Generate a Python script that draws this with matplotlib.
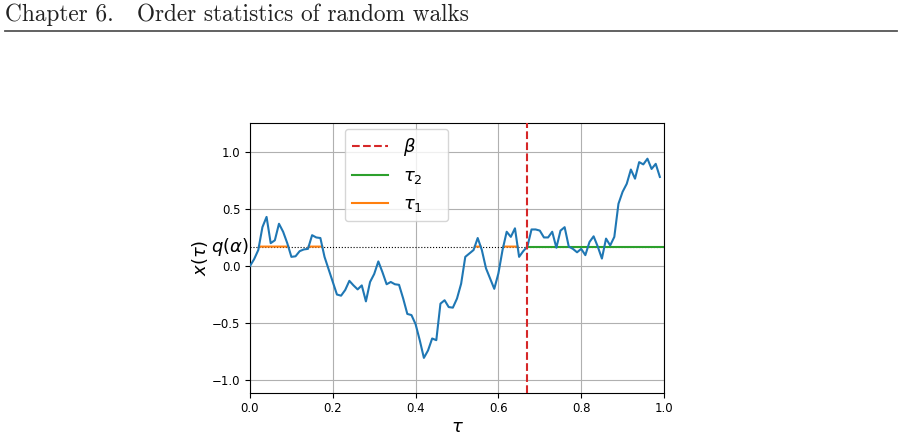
import numpy as np
import matplotlib
matplotlib.use("Agg")
import matplotlib.pyplot as plt
import matplotlib.transforms as mtransforms
from matplotlib.lines import Line2D

# ---- data ----
walk = [0.0, 0.06, 0.14, 0.34, 0.43, 0.20, 0.225, 0.37, 0.30, 0.20,
        0.08, 0.085, 0.13, 0.145, 0.15, 0.27, 0.25, 0.245, 0.08, -0.03,
        -0.14, -0.25, -0.26, -0.21, -0.13, -0.17, -0.205, -0.17, -0.31, -0.14,
        -0.07, 0.04, -0.055, -0.16, -0.14, -0.16, -0.165, -0.285, -0.42, -0.43,
        -0.51, -0.65, -0.805, -0.74, -0.635, -0.65, -0.33, -0.30, -0.36, -0.365,
        -0.285, -0.155, 0.08, 0.11, 0.14, 0.245, 0.14, -0.02, -0.11, -0.20,
        -0.065, 0.14, 0.30, 0.255, 0.33, 0.08, 0.13, 0.17, 0.32, 0.32,
        0.31, 0.25, 0.25, 0.30, 0.16, 0.31, 0.34, 0.17, 0.15, 0.12,
        0.15, 0.095, 0.21, 0.26, 0.17, 0.065, 0.24, 0.18, 0.255, 0.545,
        0.65, 0.72, 0.845, 0.765, 0.91, 0.89, 0.94, 0.85, 0.895, 0.78]
n_steps = 100
q_alpha = 0.17
beta = 0.67
x_ticks = [0.0, 0.2, 0.4, 0.6, 0.8, 1.0]
y_ticks = [-1.0, -0.5, 0.0, 0.5, 1.0]
legend_labels = [r"$\beta$", r"$\tau_2$", r"$\tau_1$"]
header = "Chapter 6.   Order statistics of random walks"

tau = np.arange(len(walk)) / n_steps
walk = np.array(walk)

fig = plt.figure(figsize=(9.03, 4.38), dpi=100)

# page header
fig.text(5 / 903, 1 - 21 / 438, header, fontfamily="cmr10", fontsize=16.8,
         ha="left", va="baseline", color="#222222")
fig.add_artist(Line2D([5 / 903, 897 / 903], [1 - 31 / 438, 1 - 31 / 438],
                      transform=fig.transFigure, color="#555555", lw=1.3))

ax = fig.add_axes([250 / 903, 1 - 392.7 / 438, 414 / 903, 269.4 / 438])

ax.plot(tau, walk, color="C0", lw=1.5, zorder=3)
ax.axhline(q_alpha, color="black", ls=":", lw=0.8, zorder=2)

# tau_1 : portions above q before beta
tf = np.linspace(0, beta, 4000)
wf = np.interp(tf, tau, walk)
seg = np.where(wf > q_alpha, q_alpha, np.nan)
ax.plot(tf, seg, color="C1", lw=1.5, zorder=2.5)
# tau_2 : from beta to end
ax.plot([beta, 1.0], [q_alpha, q_alpha], color="C2", lw=1.5, zorder=2.5)
ax.axvline(beta, color="C3", ls="--", lw=1.5, zorder=4)

handles = [Line2D([], [], color="C3", ls="--", lw=1.5),
           Line2D([], [], color="C2", lw=1.5),
           Line2D([], [], color="C1", lw=1.5)]
ax.legend(handles, [lab + "    " for lab in legend_labels], fontsize=13,
          loc="upper left", bbox_to_anchor=(0.229, 0.98), borderaxespad=0)

ax.set_xlim(0, 1)
ax.set_ylim(-1.11, 1.25)
ax.set_xticks(x_ticks)
ax.set_yticks(y_ticks)
ax.tick_params(labelsize=8.5)
ax.grid(True)

trans = mtransforms.blended_transform_factory(ax.transAxes, ax.transData)
ax.text(-0.004, q_alpha, r"$q(\alpha)$", transform=trans, ha="right",
        va="center", fontsize=13)

ax.set_xlabel(r"$\tau$", fontsize=13, labelpad=2)
ax.set_ylabel(r"$x(\tau)$", fontsize=13, labelpad=1)

fig.savefig("out.png", dpi=100)
